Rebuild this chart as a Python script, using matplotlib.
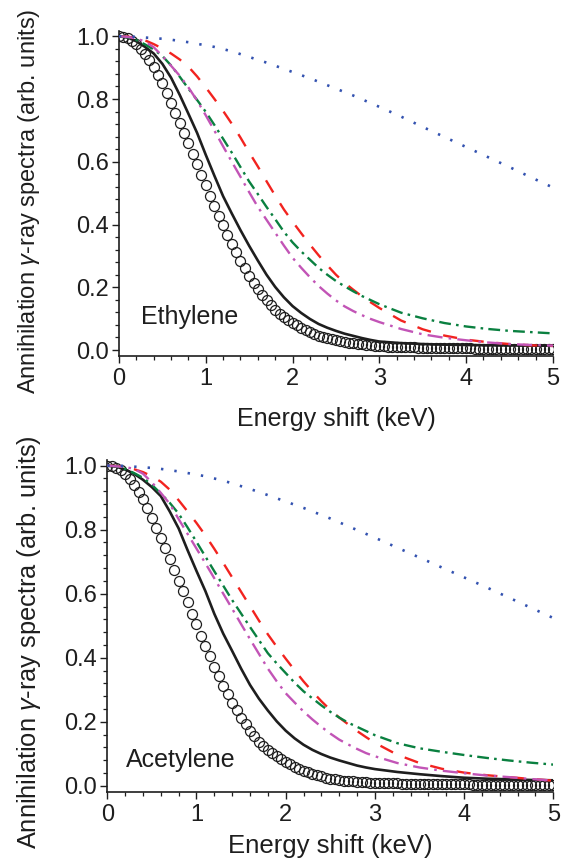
import numpy as np
import matplotlib
matplotlib.use("Agg")
import matplotlib.pyplot as plt
from matplotlib.ticker import MultipleLocator, AutoMinorLocator

plt.rcParams['font.family'] = ['Liberation Sans', 'DejaVu Sans']
plt.rcParams['mathtext.fontset'] = 'custom'
plt.rcParams['mathtext.it'] = 'Liberation Sans:italic'
plt.rcParams['mathtext.rm'] = 'Liberation Sans'

# energy grids (keV)
e_circ = np.round(np.arange(0, 5.001, 0.05), 2)
e_line = np.array([0.0, 0.1, 0.2, 0.3, 0.4, 0.5, 0.6, 0.7, 0.8, 0.9,
                   1.0, 1.1, 1.2, 1.3, 1.4, 1.5, 1.6, 1.7, 1.8, 1.9,
                   2.0, 2.1, 2.2, 2.3, 2.4, 2.5, 2.6, 2.7, 2.8, 2.9,
                   3.0, 3.25, 3.5, 3.75, 4.0, 4.25, 4.5, 4.75, 5.0])

# ---- Ethylene ----
eth_exp = [1.000, 0.998, 0.994, 0.986, 0.975, 0.961, 0.944, 0.925, 0.903, 0.878,
           0.850, 0.818, 0.788, 0.757, 0.725, 0.693, 0.660, 0.626, 0.592, 0.558,
           0.525, 0.492, 0.460, 0.428, 0.397, 0.367, 0.339, 0.311, 0.285, 0.260,
           0.237, 0.215, 0.195, 0.176, 0.158, 0.142, 0.128, 0.116, 0.105, 0.095,
           0.087, 0.079, 0.071, 0.064, 0.058, 0.052, 0.046, 0.042, 0.038, 0.034,
           0.031, 0.028, 0.025, 0.023, 0.021, 0.019, 0.018, 0.016, 0.015, 0.014,
           0.013, 0.012, 0.011, 0.0105, 0.010, 0.0095, 0.009, 0.0085, 0.008, 0.0077,
           0.0074, 0.0071, 0.0068, 0.0065, 0.0062, 0.006, 0.0058, 0.0056, 0.0054, 0.0052,
           0.005, 0.0049, 0.0048, 0.0047, 0.0046, 0.0045, 0.0044, 0.0043, 0.0042, 0.0041,
           0.004, 0.0039, 0.0038, 0.0037, 0.0036, 0.0035, 0.0034, 0.0033, 0.0032, 0.0031,
           0.003]
eth_black = [1.000, 0.996, 0.984, 0.966, 0.945, 0.912, 0.868, 0.813, 0.753, 0.692,
             0.622, 0.555, 0.490, 0.435, 0.382, 0.332, 0.285, 0.240, 0.201, 0.168,
             0.140, 0.118, 0.099, 0.083, 0.071, 0.061, 0.052, 0.045, 0.038, 0.032,
             0.027, 0.022, 0.019, 0.017, 0.016, 0.015, 0.0145, 0.014, 0.0135]
eth_red = [1.000, 0.999, 0.994, 0.987, 0.975, 0.961, 0.945, 0.926, 0.903, 0.872,
           0.837, 0.800, 0.762, 0.721, 0.677, 0.630, 0.585, 0.538, 0.492, 0.448,
           0.409, 0.372, 0.336, 0.302, 0.270, 0.240, 0.214, 0.192, 0.171, 0.152,
           0.134, 0.094, 0.066, 0.046, 0.033, 0.025, 0.019, 0.015, 0.013]
eth_green = [1.000, 0.997, 0.988, 0.974, 0.958, 0.937, 0.907, 0.871, 0.833, 0.797,
             0.759, 0.717, 0.673, 0.629, 0.583, 0.537, 0.497, 0.456, 0.417, 0.377,
             0.343, 0.314, 0.288, 0.262, 0.240, 0.220, 0.203, 0.187, 0.172, 0.159,
             0.146, 0.119, 0.101, 0.086, 0.075, 0.067, 0.061, 0.057, 0.053]
eth_magenta = [1.000, 0.998, 0.993, 0.983, 0.965, 0.937, 0.906, 0.874, 0.837, 0.795,
               0.748, 0.699, 0.649, 0.600, 0.552, 0.503, 0.456, 0.415, 0.374, 0.333,
               0.294, 0.262, 0.232, 0.204, 0.180, 0.158, 0.139, 0.124, 0.111, 0.099,
               0.089, 0.067, 0.050, 0.039, 0.031, 0.024, 0.019, 0.016, 0.014]
eth_blue = [1.000, 1.000, 0.998, 0.996, 0.994, 0.992, 0.989, 0.985, 0.981, 0.976,
            0.971, 0.966, 0.959, 0.952, 0.943, 0.934, 0.925, 0.916, 0.906, 0.896,
            0.886, 0.876, 0.866, 0.855, 0.844, 0.833, 0.822, 0.811, 0.799, 0.787,
            0.775, 0.744, 0.711, 0.679, 0.647, 0.615, 0.583, 0.550, 0.518]

# ---- Acetylene ----
ace_exp = [1.000, 0.998, 0.993, 0.985, 0.973, 0.958, 0.940, 0.919, 0.896, 0.868,
           0.835, 0.806, 0.775, 0.742, 0.708, 0.675, 0.641, 0.607, 0.573, 0.538,
           0.504, 0.469, 0.436, 0.404, 0.372, 0.342, 0.313, 0.286, 0.260, 0.236,
           0.213, 0.192, 0.172, 0.154, 0.138, 0.124, 0.112, 0.101, 0.092, 0.083,
           0.075, 0.067, 0.060, 0.053, 0.047, 0.042, 0.037, 0.033, 0.029, 0.025,
           0.022, 0.020, 0.018, 0.016, 0.015, 0.014, 0.013, 0.012, 0.011, 0.010,
           0.0095, 0.009, 0.0085, 0.008, 0.0076, 0.0072, 0.0068, 0.0065, 0.0062, 0.0059,
           0.0056, 0.0054, 0.0052, 0.005, 0.0048, 0.0046, 0.0044, 0.0043, 0.0042, 0.0041,
           0.004, 0.0039, 0.0038, 0.0037, 0.0036, 0.0035, 0.0034, 0.0033, 0.0032, 0.0031,
           0.003, 0.003, 0.003, 0.003, 0.003, 0.003, 0.003, 0.003, 0.003, 0.003,
           0.003]
ace_black = [1.000, 0.997, 0.988, 0.975, 0.956, 0.933, 0.905, 0.857, 0.804, 0.736,
             0.671, 0.608, 0.537, 0.475, 0.421, 0.366, 0.315, 0.272, 0.235, 0.201,
             0.172, 0.148, 0.128, 0.112, 0.099, 0.088, 0.079, 0.071, 0.063, 0.057,
             0.052, 0.043, 0.036, 0.030, 0.025, 0.022, 0.020, 0.018, 0.017]
ace_red = [1.000, 0.999, 0.995, 0.989, 0.980, 0.967, 0.950, 0.925, 0.892, 0.857,
           0.821, 0.782, 0.740, 0.696, 0.651, 0.606, 0.561, 0.516, 0.473, 0.434,
           0.397, 0.361, 0.326, 0.294, 0.264, 0.237, 0.213, 0.192, 0.171, 0.152,
           0.134, 0.097, 0.071, 0.053, 0.041, 0.033, 0.027, 0.021, 0.016]
ace_green = [1.000, 0.998, 0.990, 0.977, 0.962, 0.940, 0.913, 0.884, 0.850, 0.807,
             0.762, 0.716, 0.670, 0.625, 0.580, 0.538, 0.496, 0.455, 0.414, 0.382,
             0.352, 0.322, 0.295, 0.273, 0.251, 0.231, 0.213, 0.197, 0.184, 0.171,
             0.158, 0.133, 0.117, 0.106, 0.096, 0.087, 0.079, 0.072, 0.066]
ace_magenta = [1.000, 0.998, 0.996, 0.990, 0.975, 0.948, 0.915, 0.881, 0.833, 0.787,
               0.741, 0.695, 0.648, 0.600, 0.553, 0.505, 0.458, 0.412, 0.366, 0.326,
               0.289, 0.260, 0.232, 0.207, 0.184, 0.163, 0.144, 0.129, 0.115, 0.102,
               0.092, 0.071, 0.057, 0.047, 0.039, 0.032, 0.027, 0.021, 0.016]
ace_blue = [1.000, 1.000, 0.999, 0.997, 0.995, 0.993, 0.990, 0.986, 0.982, 0.977,
            0.972, 0.967, 0.960, 0.953, 0.945, 0.936, 0.927, 0.918, 0.908, 0.898,
            0.888, 0.878, 0.868, 0.857, 0.846, 0.835, 0.823, 0.811, 0.799, 0.787,
            0.775, 0.744, 0.713, 0.682, 0.651, 0.620, 0.588, 0.556, 0.524]

BLUE = '#3352b0'
RED = '#f2231f'
GREEN = '#0a8040'
MAGENTA = '#c254b6'
INK = '#1e1e1e'

ylabel_text = r'Annihilation $\gamma$-ray spectra (arb. units)'


def draw_panel(ax, exp, black, red, green, magenta, blue, name, name_pos):
    ax.plot(e_circ, exp, 'o', ms=7.2, mfc='none', mec=INK, mew=0.9, zorder=2)
    ax.plot(e_line, black, color=INK, lw=1.9, zorder=3)
    ax.plot(e_line, red, color=RED, lw=1.7, linestyle=(0, (6.0, 5.4)), zorder=3)
    ax.plot(e_line, green, color=GREEN, lw=1.7,
            linestyle=(0, (5.0, 2.2, 1.1, 2.2)), zorder=3)
    ax.plot(e_line, magenta, color=MAGENTA, lw=1.7,
            linestyle=(0, (6.4, 2.6, 1.1, 2.6)), zorder=3)
    ax.plot(e_line, blue, color=BLUE, lw=1.9, linestyle=(0, (0.9, 4.2)), zorder=3)

    ax.text(name_pos[0], name_pos[1], name, fontsize=18, va='baseline', color=INK)

    ax.set_xlim(0, 5)
    ax.xaxis.set_major_locator(MultipleLocator(1))
    ax.xaxis.set_minor_locator(AutoMinorLocator(5))
    ax.yaxis.set_major_locator(MultipleLocator(0.2))
    ax.yaxis.set_minor_locator(AutoMinorLocator(5))
    ax.yaxis.set_major_formatter(matplotlib.ticker.FormatStrFormatter('%.1f'))
    ax.spines['top'].set_visible(False)
    ax.spines['right'].set_visible(False)
    for s in ('left', 'bottom'):
        ax.spines[s].set_linewidth(1.2)
        ax.spines[s].set_color(INK)
    ax.tick_params(which='major', direction='out', length=5, width=1.0,
                   labelsize=17, color=INK, labelcolor=INK)
    ax.tick_params(which='minor', direction='out', length=2.6, width=0.9,
                   color=INK)
    ax.tick_params(axis='x', which='major', pad=4)
    ax.tick_params(axis='y', which='major', pad=2.5)


fig = plt.figure(figsize=(5.65, 8.64), dpi=100)
ax1 = fig.add_axes([0.2106, 0.588, 0.768, 0.3762])
ax2 = fig.add_axes([0.1899, 0.0837, 0.7894, 0.3839])

draw_panel(ax1, eth_exp, eth_black, eth_red, eth_green, eth_magenta, eth_blue,
           'Ethylene', (0.25, 0.082))
ax1.set_ylim(-0.019, 1.017)
draw_panel(ax2, ace_exp, ace_black, ace_red, ace_green, ace_magenta, ace_blue,
           'Acetylene', (0.21, 0.057))
ax2.set_ylim(-0.0186, 1.0178)

ax1.set_xlabel('Energy shift (keV)', fontsize=18, color=INK)
ax2.set_xlabel('Energy shift (keV)', fontsize=18.5, color=INK)
ax1.set_ylabel(ylabel_text, fontsize=17, color=INK)
ax2.set_ylabel(ylabel_text, fontsize=18.3, color=INK)

ax1.xaxis.set_label_coords(0.5, -0.158)
ax2.xaxis.set_label_coords(0.5, -0.128)
ax1.yaxis.set_label_coords(-0.177, 0.4765)
ax2.yaxis.set_label_coords(-0.145, 0.452)

fig.savefig('out.png', dpi=100)
